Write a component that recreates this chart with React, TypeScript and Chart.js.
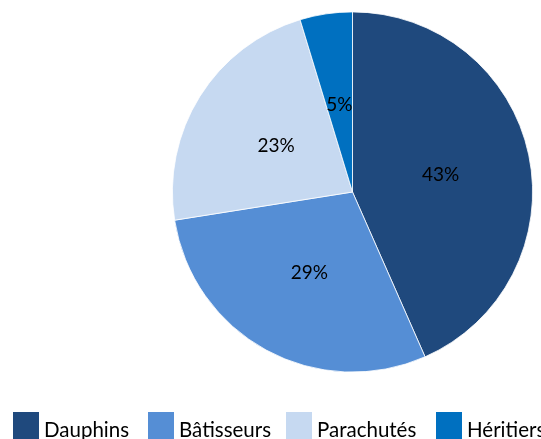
import React, { useEffect, useRef } from "react";
import { Chart, registerables } from "chart.js";

Chart.register(...registerables);

const categories = ["Dauphins", "Bâtisseurs", "Parachutés", "Héritiers"];
const shares = [43.4, 29.1, 22.8, 4.7];
const colors = ["#1f497d", "#558ed5", "#c6d9f1", "#0070c0"];

const FONT = "Lato, 'Open Sans', sans-serif";

const pctLabels = {
  id: "pctLabels",
  afterDatasetsDraw(chart: any) {
    const ctx = chart.ctx;
    const meta = chart.getDatasetMeta(0);
    const data = chart.data.datasets[0].data as number[];
    const total = data.reduce((a, b) => a + b, 0);
    ctx.save();
    ctx.font = `19px ${FONT}`;
    ctx.fillStyle = "#000";
    ctx.textAlign = "center";
    ctx.textBaseline = "middle";
    meta.data.forEach((arc: any, i: number) => {
      const p = arc.getCenterPoint();
      ctx.fillText(`${Math.round((data[i] / total) * 100)}%`, p.x, p.y + 1.5);
    });
    ctx.restore();
  },
};

const legendX = [13, 148, 286, 436];

export default function App() {
  const ref = useRef<HTMLCanvasElement | null>(null);
  useEffect(() => {
    if (!ref.current) return;
    const chart = new Chart(ref.current, {
      type: "pie",
      data: {
        labels: categories,
        datasets: [
          {
            data: shares,
            backgroundColor: colors,
            borderColor: "#ffffff",
            borderWidth: 0.8,
          },
        ],
      },
      options: {
        responsive: false,
        animation: false,
        layout: { padding: { left: 172, right: 8, top: 11.5, bottom: 66.5 } },
        plugins: {
          legend: { display: false },
          tooltip: { enabled: false },
        },
      },
      plugins: [pctLabels],
    });
    return () => chart.destroy();
  }, []);

  return (
    <div
      style={{
        position: "fixed",
        left: 0,
        top: 0,
        width: 541,
        height: 439,
        overflow: "hidden",
        background: "#fff",
      }}
    >
      <canvas ref={ref} width={541} height={439} style={{ display: "block" }} />
      {categories.map((c, i) => (
        <div
          key={c}
          style={{
            position: "absolute",
            left: legendX[i],
            top: 412,
            display: "flex",
            alignItems: "flex-start",
            whiteSpace: "nowrap",
          }}
        >
          <span
            style={{
              display: "inline-block",
              width: 26,
              height: 27,
              background: colors[i],
            }}
          />
          <span
            style={{
              marginLeft: 5,
              marginTop: 5,
              fontFamily: FONT,
              fontSize: 20.5,
              lineHeight: "24px",
              color: "#000",
            }}
          >
            {c}
          </span>
        </div>
      ))}
    </div>
  );
}
